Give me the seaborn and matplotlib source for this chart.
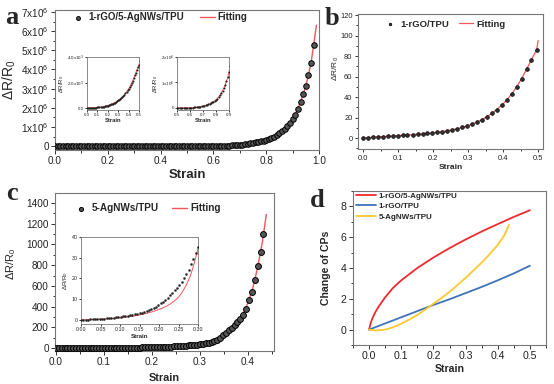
import matplotlib
matplotlib.use('Agg')
import matplotlib.pyplot as plt
import seaborn as sns
import pandas as pd
from matplotlib.ticker import MultipleLocator, FixedLocator, FixedFormatter, FormatStrFormatter

# ---------------- data ----------------
# panel a : 1-rGO/5-AgNWs/TPU
a_strain = [0.00, 0.01, 0.02, 0.03, 0.04, 0.05, 0.06, 0.07, 0.08, 0.09,
            0.10, 0.11, 0.12, 0.13, 0.14, 0.15, 0.16, 0.17, 0.18, 0.19,
            0.20, 0.21, 0.22, 0.23, 0.24, 0.25, 0.26, 0.27, 0.28, 0.29,
            0.30, 0.31, 0.32, 0.33, 0.34, 0.35, 0.36, 0.37, 0.38, 0.39,
            0.40, 0.41, 0.42, 0.43, 0.44, 0.45, 0.46, 0.47, 0.48, 0.49,
            0.50, 0.51, 0.52, 0.53, 0.54, 0.55, 0.56, 0.57, 0.58, 0.59,
            0.60, 0.61, 0.62, 0.63, 0.64, 0.65, 0.66, 0.67, 0.68, 0.69,
            0.70, 0.71, 0.72, 0.73, 0.74, 0.75, 0.76, 0.77, 0.78, 0.79,
            0.80, 0.81, 0.82, 0.83, 0.84, 0.85, 0.86, 0.87, 0.88, 0.89,
            0.90, 0.91, 0.92, 0.93, 0.94, 0.95, 0.96, 0.97, 0.98]
a_resist = [0, 3, 6, 9, 13, 17, 21, 26, 32, 40,
            50, 58, 68, 80, 92, 105, 120, 138, 158, 178,
            200, 225, 252, 282, 315, 350, 390, 435, 485, 540,
            600, 660, 730, 800, 880, 960, 1050, 1150, 1260, 1380,
            1500, 1640, 1800, 1970, 2150, 2350, 2560, 2780, 3000, 3200,
            3400, 3700, 4050, 4450, 4950, 5550, 6300, 7200, 8300, 9700,
            11400, 13500, 16000, 19200, 23000, 27800, 33500, 40500, 49000, 59000,
            71000, 85000, 101000, 120000, 141000, 165000, 192000, 218000, 248000, 282000,
            320000, 370000, 430000, 500000, 585000, 680000, 780000, 900000, 1040000, 1200000,
            1400000, 1650000, 1950000, 2300000, 2700000, 3150000, 3700000, 4350000, 5300000]
a_fit_end_strain = [0.99]
a_fit_end_resist = [6300000]
a_ytick_labels = ['0', r'$1\mathrm{x}10^6$', r'$2\mathrm{x}10^6$', r'$3\mathrm{x}10^6$',
                  r'$4\mathrm{x}10^6$', r'$5\mathrm{x}10^6$', r'$6\mathrm{x}10^6$',
                  r'$7\mathrm{x}10^6$']

# panel b : 1-rGO/TPU
b_strain = [0.000, 0.014, 0.028, 0.042, 0.057, 0.071, 0.085, 0.099, 0.113, 0.127,
            0.142, 0.156, 0.170, 0.184, 0.198, 0.212, 0.227, 0.241, 0.255, 0.269,
            0.283, 0.297, 0.312, 0.326, 0.340, 0.354, 0.368, 0.382, 0.397, 0.411,
            0.425, 0.439, 0.453, 0.467, 0.481, 0.496]
b_resist = [0.0, 0.4, 0.8, 1.1, 1.4, 1.7, 2.0, 2.3, 2.6, 2.9,
            3.2, 3.6, 4.0, 4.5, 5.0, 5.6, 6.3, 7.1, 8.0, 9.1,
            10.4, 11.9, 13.6, 15.6, 18.0, 20.8, 24.0, 27.8, 32.2, 37.3,
            43.2, 50.0, 58.0, 67.0, 76.5, 86.0]
b_fit_end_strain = [0.500]
b_fit_end_resist = [95.0]

# panel c : 5-AgNWs/TPU
c_strain = [0.000, 0.006, 0.012, 0.018, 0.024, 0.030, 0.036, 0.042, 0.048, 0.054,
            0.060, 0.066, 0.072, 0.078, 0.084, 0.090, 0.096, 0.102, 0.108, 0.114,
            0.120, 0.126, 0.132, 0.138, 0.144, 0.150, 0.156, 0.162, 0.168, 0.174,
            0.180, 0.186, 0.192, 0.198, 0.204, 0.210, 0.216, 0.222, 0.228, 0.234,
            0.240, 0.246, 0.252, 0.258, 0.264, 0.270, 0.276, 0.282, 0.288, 0.294,
            0.300, 0.306, 0.312, 0.318, 0.324, 0.330, 0.336, 0.342, 0.348, 0.354,
            0.360, 0.366, 0.372, 0.378, 0.384, 0.390, 0.396, 0.402, 0.408, 0.414,
            0.420, 0.426, 0.432]
c_resist = [0, 0.05, 0.1, 0.15, 0.2, 0.27, 0.33, 0.4, 0.47, 0.55,
            0.63, 0.72, 0.82, 0.93, 1.05, 1.18, 1.32, 1.47, 1.63, 1.8,
            1.98, 2.18, 2.4, 2.65, 2.92, 3.2, 3.5, 3.85, 4.25, 4.7,
            5.2, 5.75, 6.35, 7.1, 7.9, 8.8, 9.7, 10.7, 11.8, 13.0,
            14.2, 15.5, 16.9, 18.5, 20.2, 22.1, 24.3, 26.8, 29.5, 32.3,
            35.3, 39, 44, 50, 58, 68, 82, 100, 122, 145,
            170, 196, 225, 250, 282, 318, 375, 465, 540, 660,
            790, 930, 1100]
c_fit_strain = [0.00, 0.01, 0.02, 0.03, 0.04, 0.05, 0.06, 0.07, 0.08, 0.09,
                0.10, 0.11, 0.12, 0.13, 0.14, 0.15, 0.16, 0.17, 0.18, 0.19,
                0.20, 0.21, 0.22, 0.23, 0.24, 0.25, 0.26, 0.27, 0.28, 0.29,
                0.30, 0.31, 0.32, 0.33, 0.34, 0.35, 0.36, 0.37, 0.38, 0.39,
                0.40, 0.41, 0.42, 0.43, 0.438]
c_fit_resist = [0, 0.02, 0.06, 0.12, 0.2, 0.3, 0.4, 0.52, 0.66, 0.82,
                1.0, 1.2, 1.43, 1.7, 2.0, 2.35, 2.75, 3.2, 3.75, 4.35,
                5.0, 5.8, 6.7, 7.8, 9.2, 10.9, 13.5, 16.8, 21.0, 27.0,
                34.5, 42, 52, 66, 88, 118, 160, 210, 265, 330,
                440, 580, 780, 1030, 1290]

# panel d : change of CPs
d_labels = ['1-rGO/5-AgNWs/TPU', '1-rGO/TPU', '5-AgNWs/TPU']
d_red_strain = [0.0, 0.005, 0.01, 0.02, 0.03, 0.05, 0.075, 0.1, 0.15, 0.2, 0.25, 0.3, 0.35, 0.4, 0.45, 0.5]
d_red_cp = [0.0, 0.42, 0.72, 1.15, 1.5, 2.1, 2.72, 3.2, 4.0, 4.68, 5.29, 5.85, 6.37, 6.85, 7.32, 7.75]
d_blue_strain = [0.0, 0.05, 0.1, 0.15, 0.2, 0.25, 0.3, 0.35, 0.4, 0.45, 0.5]
d_blue_cp = [0.0, 0.4, 0.8, 1.2, 1.6, 1.97, 2.37, 2.77, 3.2, 3.65, 4.15]
d_yel_strain = [0.0, 0.02, 0.04, 0.06, 0.08, 0.1, 0.125, 0.15, 0.175, 0.2, 0.225, 0.25,
                0.275, 0.3, 0.325, 0.35, 0.375, 0.4, 0.42, 0.435]
d_yel_cp = [0.0, -0.05, -0.03, 0.05, 0.2, 0.38, 0.65, 0.95, 1.3, 1.68, 2.05, 2.45,
            2.9, 3.35, 3.85, 4.35, 4.9, 5.5, 6.1, 6.8]

# ---------------- style ----------------
sns.set_style('ticks')
plt.rcParams['font.family'] = ['Liberation Sans', 'DejaVu Sans']
plt.rcParams['mathtext.fontset'] = 'custom'
plt.rcParams['mathtext.rm'] = 'Liberation Sans'
plt.rcParams['mathtext.it'] = 'Liberation Sans:italic'
plt.rcParams['mathtext.bf'] = 'Liberation Sans:bold'

W, H = 554, 384
fig = plt.figure(figsize=(W / 100, H / 100), dpi=100)
fig.patch.set_facecolor('white')

FRAME = '#777777'
FIT = '#f2555a'
YLAB = r'$\Delta$R/R$_0$'


def box(l, r, t, b):
    return [l / W, 1 - b / H, (r - l) / W, (b - t) / H]


def style(ax, fs, major=3.0, minor=1.8, lw=0.8):
    for s in ax.spines.values():
        s.set_color(FRAME)
        s.set_linewidth(lw)
    ax.tick_params(which='both', direction='out', top=False, right=False,
                   color='#333333', labelcolor='#222222', width=0.7, labelsize=fs, pad=1.5)
    ax.tick_params(which='major', length=major)
    ax.tick_params(which='minor', length=minor)


def legend_row(ax, fs, anchor, colsp=1.6):
    h, l = ax.get_legend_handles_labels()
    order = [l.index(x) for x in l if x != 'Fitting'] + [l.index('Fitting')]
    leg = ax.legend([h[i] for i in order], [l[i] for i in order], ncol=2, frameon=False,
                    loc='upper left', bbox_to_anchor=anchor, handlelength=1.5,
                    handletextpad=0.3, columnspacing=colsp, borderaxespad=0,
                    prop={'weight': 'bold', 'size': fs}, markerscale=0.7)
    return leg


def panel_letter(x, y, t):
    fig.text(x / W, 1 - y / H, t, family=['Liberation Serif', 'DejaVu Serif'],
             weight='bold', fontsize=19, va='baseline', ha='left')


# ---------------- panel a ----------------
ax = fig.add_axes(box(55, 319, 10, 150))
sns.lineplot(x=a_strain + a_fit_end_strain, y=a_resist + a_fit_end_resist, ax=ax,
             color=FIT, linewidth=1.0, label='Fitting', zorder=2)
sns.scatterplot(x=a_strain, y=a_resist, ax=ax, marker='o', s=16, color='#555555',
                edgecolor='black', linewidth=0.7, label='1-rGO/5-AgNWs/TPU', zorder=3)
ax.set_xlim(0, 1.0)
ax.set_ylim(-0.2e6, 7.1e6)
ax.xaxis.set_major_locator(MultipleLocator(0.2))
ax.xaxis.set_minor_locator(MultipleLocator(0.1))
ax.xaxis.set_major_formatter(FormatStrFormatter('%.1f'))
ax.yaxis.set_major_locator(FixedLocator([0, 1e6, 2e6, 3e6, 4e6, 5e6, 6e6, 7e6]))
ax.yaxis.set_major_formatter(FixedFormatter(a_ytick_labels))
ax.yaxis.set_minor_locator(MultipleLocator(0.5e6))
style(ax, 7.2)
ax.set_xlabel('Strain', fontsize=9.5, weight='bold', labelpad=2)
ax.set_ylabel(YLAB, fontsize=10)
ax.yaxis.set_label_coords(-(55 - 18) / 264, 0.5)
legend_row(ax, 7, (0.044, 1.01), colsp=1.7)

# insets of a
for (l, r), (x0, x1), (y0, y1), yt, ytl, xt in [
        ((87, 139), (0.0, 0.5), (-150, 4000), [0, 2000, 4000],
         ['0.0', r'$2.0\mathrm{x}10^3$', r'$4.0\mathrm{x}10^3$'],
         [0.0, 0.1, 0.2, 0.3, 0.4, 0.5]),
        ((177, 229), (0.5, 0.9), (-0.08e6, 2e6), [0, 1e6, 2e6],
         ['0', r'$1\mathrm{x}10^6$', r'$2\mathrm{x}10^6$'],
         [0.5, 0.6, 0.7, 0.8, 0.9])]:
    ia = fig.add_axes(box(l, r, 57, 110))
    sns.lineplot(x=a_strain + a_fit_end_strain, y=a_resist + a_fit_end_resist, ax=ia,
                 color=FIT, linewidth=0.7, zorder=2, legend=False)
    sns.scatterplot(x=a_strain, y=a_resist, ax=ia, marker='o', s=1.5, color='#222222',
                    edgecolor='#222222', linewidth=0.2, zorder=3, legend=False)
    ia.set_xlim(x0, x1)
    ia.set_ylim(y0, y1)
    ia.set_xticks(xt)
    ia.set_xticklabels(['%.1f' % v for v in xt])
    ia.set_yticks(yt)
    ia.set_yticklabels(ytl)
    style(ia, 3.2, major=1.5, minor=0.8, lw=0.6)
    ia.tick_params(pad=0.8)
    ia.set_xlabel('Strain', fontsize=4.2, weight='bold', labelpad=0.5)
    ia.set_ylabel(YLAB, fontsize=4.2, labelpad=0.5)

panel_letter(5, 24, 'a')

# ---------------- panel b ----------------
ax = fig.add_axes(box(358, 543, 14, 149))
sns.lineplot(x=b_strain + b_fit_end_strain, y=b_resist + b_fit_end_resist, ax=ax,
             color=FIT, linewidth=0.9, label='Fitting', zorder=2)
sns.scatterplot(x=b_strain, y=b_resist, ax=ax, marker='o', s=7, color='#333333',
                edgecolor='black', linewidth=0.5, label='1-rGO/TPU', zorder=3)
ax.set_xlim(-0.0143, 0.514)
ax.set_ylim(-10.7, 121)
ax.xaxis.set_major_locator(MultipleLocator(0.1))
ax.xaxis.set_minor_locator(MultipleLocator(0.05))
ax.xaxis.set_major_formatter(FormatStrFormatter('%.1f'))
ax.yaxis.set_major_locator(MultipleLocator(20))
ax.yaxis.set_minor_locator(MultipleLocator(10))
style(ax, 5.4, major=2.5, minor=1.5)
ax.set_xlabel('Strain', fontsize=6, weight='bold', labelpad=2)
ax.set_ylabel(YLAB, fontsize=6)
ax.yaxis.set_label_coords(-(358 - 341) / 185, 0.6)
legend_row(ax, 6.8, (0.114, 0.985), colsp=1.1)
panel_letter(325, 25, 'b')

# ---------------- panel c ----------------
ax = fig.add_axes(box(55, 274, 193, 351))
sns.lineplot(x=c_fit_strain, y=c_fit_resist, ax=ax, color=FIT, linewidth=1.0,
             label='Fitting', zorder=2)
sns.scatterplot(x=c_strain, y=c_resist, ax=ax, marker='o', s=18, color='#555555',
                edgecolor='black', linewidth=0.7, label='5-AgNWs/TPU', zorder=3)
ax.set_xlim(-0.002, 0.454)
ax.set_ylim(-29, 1497)
ax.xaxis.set_major_locator(MultipleLocator(0.1))
ax.xaxis.set_minor_locator(MultipleLocator(0.05))
ax.xaxis.set_major_formatter(FormatStrFormatter('%.1f'))
ax.yaxis.set_major_locator(FixedLocator([0, 200, 400, 600, 800, 1000, 1200, 1400]))
ax.yaxis.set_minor_locator(MultipleLocator(100))
style(ax, 7.2)
ax.set_xlabel('Strain', fontsize=7.8, weight='bold', labelpad=4)
ax.set_ylabel(YLAB, fontsize=8)
ax.yaxis.set_label_coords(-(55 - 18) / 219, 0.55)
legend_row(ax, 7.2, (0.068, 0.96), colsp=1.3)

ia = fig.add_axes(box(81, 198, 237, 324))
sns.lineplot(x=c_fit_strain, y=c_fit_resist, ax=ia, color=FIT, linewidth=0.7,
             zorder=2, legend=False)
sns.scatterplot(x=c_strain, y=c_resist, ax=ia, marker='o', s=2.5, color='#222222',
                edgecolor='#222222', linewidth=0.2, zorder=3, legend=False)
ia.set_xlim(0, 0.30)
ia.set_ylim(-2, 40)
ia.set_xticks([0.0, 0.05, 0.10, 0.15, 0.20, 0.25, 0.30])
ia.set_xticklabels(['0.00', '0.05', '0.10', '0.15', '0.20', '0.25', '0.30'])
ia.set_yticks([0, 10, 20, 30, 40])
style(ia, 3.8, major=1.5, minor=0.8, lw=0.6)
ia.tick_params(pad=0.8)
ia.set_xlabel('Strain', fontsize=4.5, weight='bold', labelpad=1)
ia.set_ylabel(YLAB, fontsize=4.5, labelpad=1)
panel_letter(6, 200, 'c')

# ---------------- panel d ----------------
ax = fig.add_axes(box(353, 546, 191, 345))
df = pd.concat([
    pd.DataFrame({'Strain': d_red_strain, 'CP': d_red_cp, 'Sample': d_labels[0]}),
    pd.DataFrame({'Strain': d_blue_strain, 'CP': d_blue_cp, 'Sample': d_labels[1]}),
    pd.DataFrame({'Strain': d_yel_strain, 'CP': d_yel_cp, 'Sample': d_labels[2]}),
])
sns.lineplot(data=df, x='Strain', y='CP', hue='Sample', hue_order=d_labels,
             palette=['#ec2a2f', '#3f73b8', '#fbc92f'], linewidth=1.3, ax=ax)
ax.set_xlim(-0.05, 0.55)
ax.set_ylim(-1, 9)
ax.xaxis.set_major_locator(MultipleLocator(0.1))
ax.xaxis.set_minor_locator(MultipleLocator(0.05))
ax.xaxis.set_major_formatter(FormatStrFormatter('%.1f'))
ax.yaxis.set_major_locator(MultipleLocator(2))
ax.yaxis.set_minor_locator(MultipleLocator(1))
style(ax, 7.6)
ax.set_xlabel('Strain', fontsize=7.6, weight='bold', labelpad=2)
ax.set_ylabel('Change of CPs', fontsize=7.6, weight='bold')
ax.yaxis.set_label_coords(-(353 - 331) / 193, 0.5)
ax.legend(frameon=False, loc='upper left', bbox_to_anchor=(0.0, 1.013), borderaxespad=0,
          handlelength=2.5, handletextpad=0.25, labelspacing=0.35,
          prop={'weight': 'bold', 'size': 5.8})
panel_letter(310, 207, 'd')

fig.savefig('out.png', dpi=100, facecolor='white')
